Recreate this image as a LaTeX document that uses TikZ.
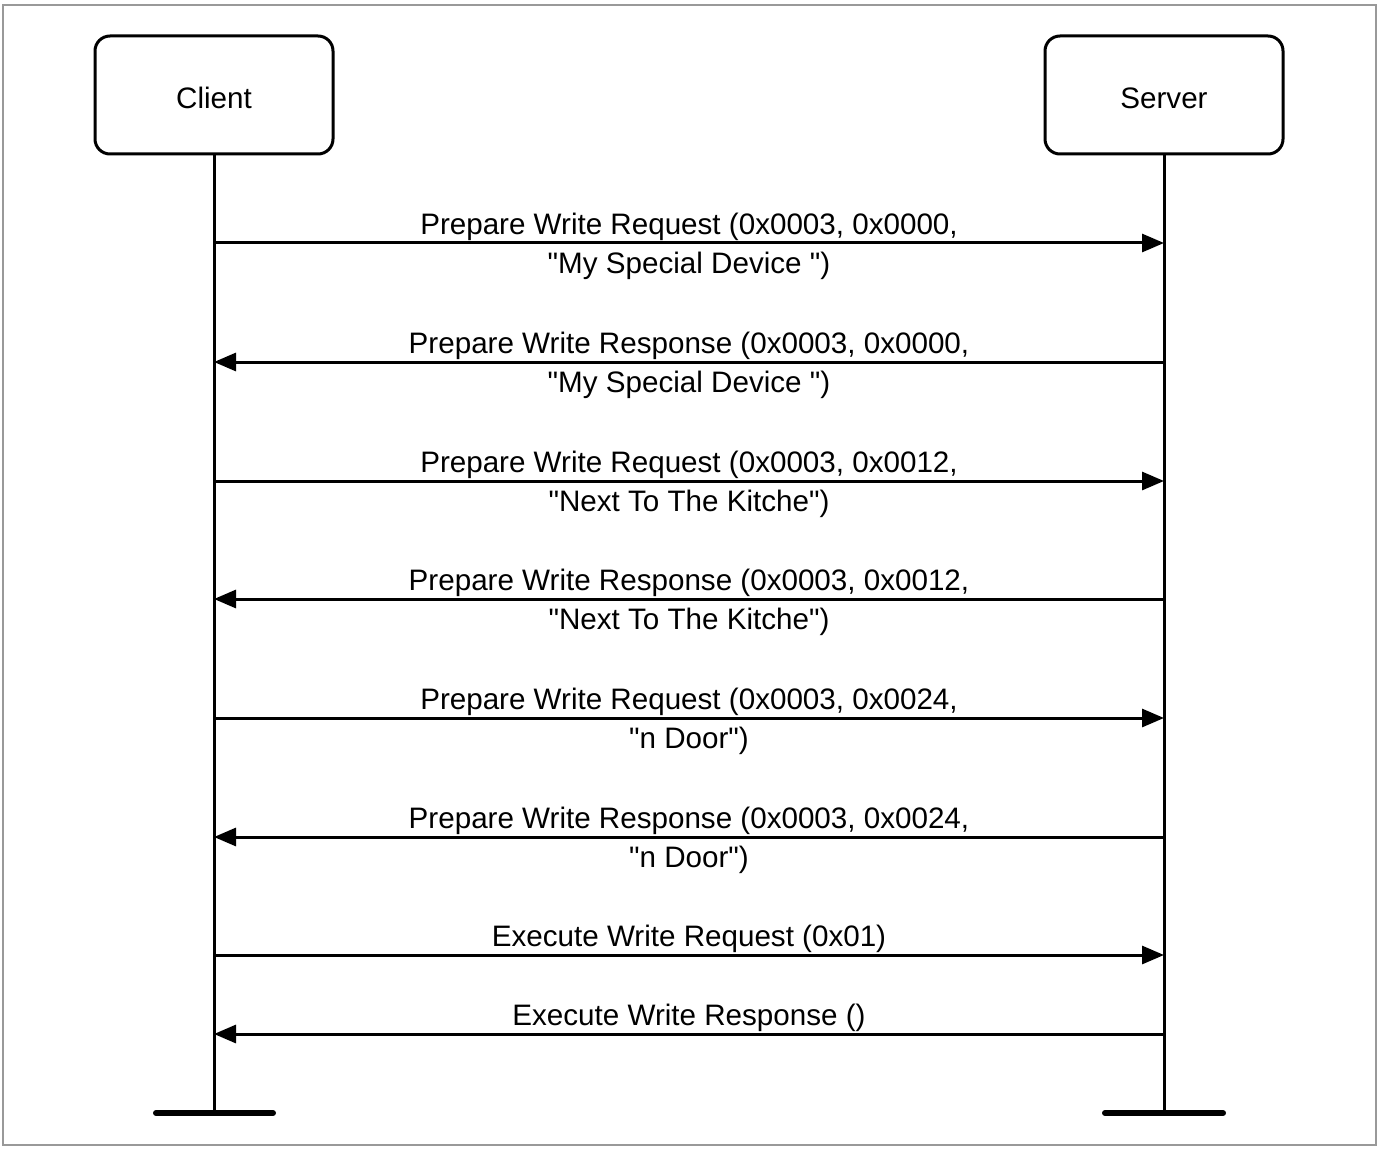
\documentclass[tikz,border=0pt]{standalone}
\usepackage{fontspec}
\setmainfont{Liberation Sans}[Ligatures=TeXOff]
\usetikzlibrary{arrows.meta,calc}
\begin{document}
\begin{tikzpicture}[x=0.5pt,y=-0.5pt,
  every node/.style={font=\fontsize{14.8}{18}\selectfont, inner sep=0pt},
  actor/.style={draw, line width=1.5pt, rounded corners=7.5pt, minimum width=119pt, minimum height=59pt},
  life/.style={line width=1.5pt},
  endbar/.style={line width=3pt, line cap=round},
  msg/.style={line width=1.5pt, -{Triangle[length=11pt,width=9pt]}},
  lbl/.style={anchor=center}]
\useasboundingbox (0,0) rectangle (1380,1150);
\draw[gray!80, line width=1pt] (3,5) rectangle (1376,1145);

\node[actor] (client) at (214,95) {\raisebox{-1.5pt}[\height][0pt]{Client}};
\node[actor] (server) at (1164,95) {\raisebox{-1.5pt}[\height][0pt]{Server}};

\coordinate (cend) at (214,1113);
\coordinate (send) at (1164,1113);
\draw[life] (client.south) -- (cend);
\draw[life] (server.south) -- (send);
\draw[endbar] ([xshift=-29pt]cend) -- ([xshift=29.5pt]cend);
\draw[endbar] ([xshift=-29.5pt]send) -- ([xshift=29.5pt]send);

\foreach \i/\y in {1/243,2/362,3/481,4/599,5/718,6/837,7/955,8/1034}{
  \coordinate (c\i) at (214,\y);
  \coordinate (s\i) at (1164,\y);
}

\draw[msg] (c1) -- (s1);
\draw[msg] (s2) -- (c2);
\draw[msg] (c3) -- (s3);
\draw[msg] (s4) -- (c4);
\draw[msg] (c5) -- (s5);
\draw[msg] (s6) -- (c6);
\draw[msg] (c7) -- (s7);
\draw[msg] (s8) -- (c8);

\node[lbl] (l1a) at ($(c1)!0.5!(s1)+(0,-16)$) {Prepare Write Request (0x0003, 0x0000,};
\node[lbl] (l1b) at ($(c1)!0.5!(s1)+(0,23)$) {"My Special Device ")};
\node[lbl] (l2a) at ($(c2)!0.5!(s2)+(0,-16)$) {Prepare Write Response (0x0003, 0x0000,};
\node[lbl] (l2b) at ($(c2)!0.5!(s2)+(0,23)$) {"My Special Device ")};
\node[lbl] (l3a) at ($(c3)!0.5!(s3)+(0,-16)$) {Prepare Write Request (0x0003, 0x0012,};
\node[lbl] (l3b) at ($(c3)!0.5!(s3)+(0,23)$) {"Next To The Kitche")};
\node[lbl] (l4a) at ($(c4)!0.5!(s4)+(0,-16)$) {Prepare Write Response (0x0003, 0x0012,};
\node[lbl] (l4b) at ($(c4)!0.5!(s4)+(0,23)$) {"Next To The Kitche")};
\node[lbl] (l5a) at ($(c5)!0.5!(s5)+(0,-16)$) {Prepare Write Request (0x0003, 0x0024,};
\node[lbl] (l5b) at ($(c5)!0.5!(s5)+(0,23)$) {"n Door")};
\node[lbl] (l6a) at ($(c6)!0.5!(s6)+(0,-16)$) {Prepare Write Response (0x0003, 0x0024,};
\node[lbl] (l6b) at ($(c6)!0.5!(s6)+(0,23)$) {"n Door")};
\node[lbl] (l7a) at ($(c7)!0.5!(s7)+(0,-16)$) {Execute Write Request (0x01)};
\node[lbl] (l8a) at ($(c8)!0.5!(s8)+(0,-16)$) {Execute Write Response ()};
\end{tikzpicture}
\end{document}
